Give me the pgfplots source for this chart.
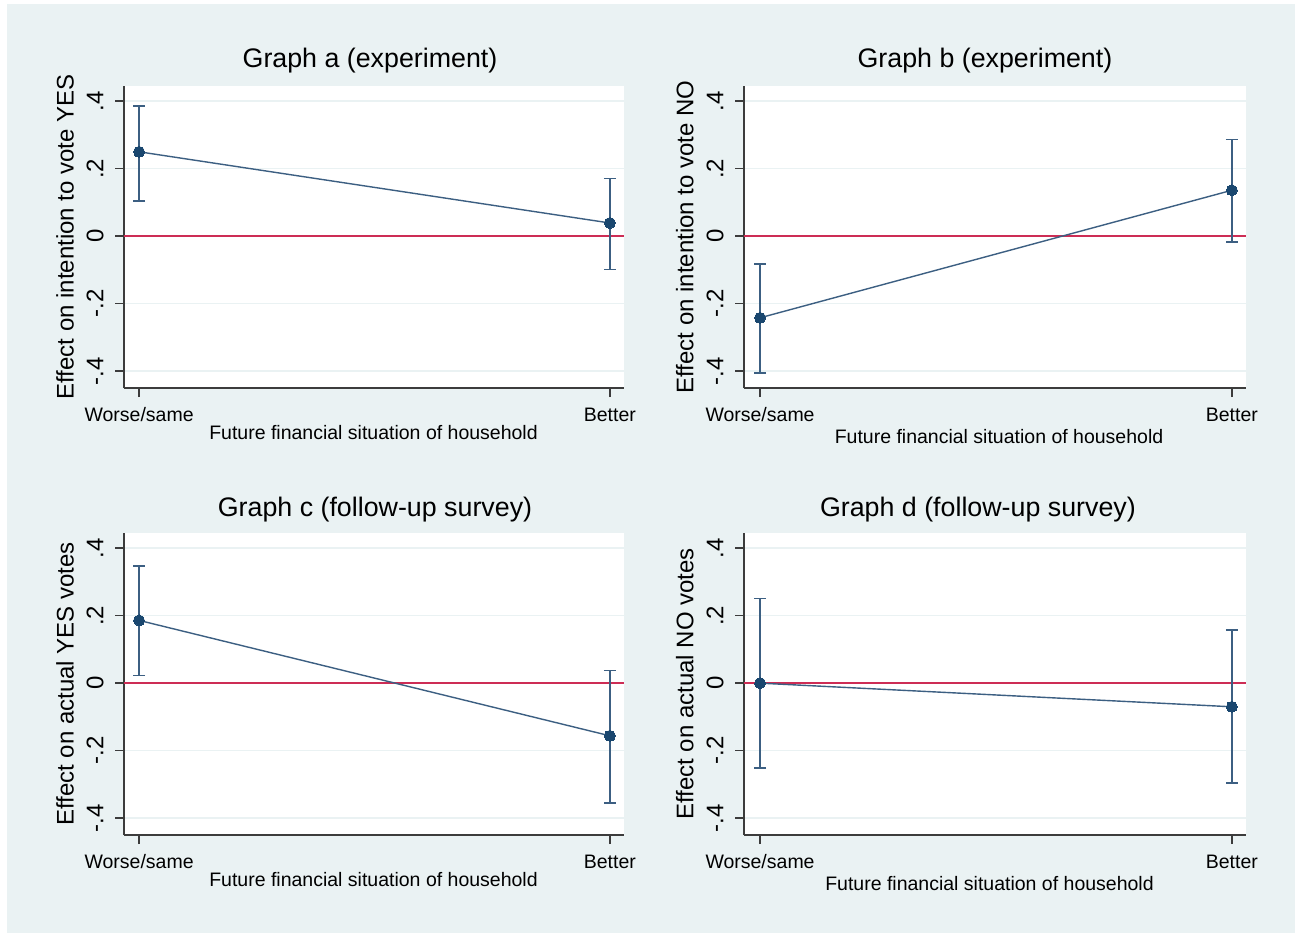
\documentclass[border=0pt]{standalone}
\usepackage{fontspec}
\setmainfont{Liberation Sans}
\usepackage{pgfplots}
\pgfplotsset{compat=1.18}
\definecolor{bgc}{RGB}{234,242,243}
\definecolor{navy}{RGB}{26,71,111}
\definecolor{navyl}{RGB}{60,95,130}
\definecolor{redl}{RGB}{205,45,85}
\definecolor{gridc}{RGB}{234,242,243}
\definecolor{axc}{RGB}{60,60,60}

\pgfplotsset{
  stata/.style={
    width=500pt, height=302pt, scale only axis,
    xmin=-0.032, xmax=1.03, ymin=-0.45, ymax=0.445,
    axis x line*=bottom, axis y line*=left,
    axis line style={axc, line width=1.5pt},
    axis background/.style={fill=white},
    xtick={0,1}, xticklabels={Worse/same,Better},
    ytick={-0.4,-0.2,0,0.2,0.4}, yticklabels={-.4,-.2,0,.2,.4},
    tick align=outside, major tick length=9pt,
    tick style={axc, line width=1.5pt},
    ymajorgrids, grid style={gridc, line width=1.5pt},
    xticklabel style={font=\fontsize{19.5}{21}\selectfont, anchor=center},
    xticklabel shift=18pt,
    yticklabel style={font=\fontsize{24}{26}\selectfont, anchor=center, rotate=90},
    yticklabel shift=20pt,
    title style={font=\fontsize{26.8}{28}\selectfont, anchor=center, yshift=-9pt},
    xlabel={Future financial situation of household},
    xlabel style={font=\fontsize{19.5}{21}\selectfont, anchor=center},
    ylabel style={font=\fontsize{24}{26}\selectfont, anchor=center,
                  at={(axis description cs:-0.118,0.5)}},
    clip=false,
  },
  zeroline/.style={redl, line width=1.5pt, no marks, forget plot},
  series/.style={navyl, line width=1.4pt, mark=*, mark size=5.5pt,
    mark options={fill=navy, draw=navy, line width=0pt},
    error bars/.cd, y dir=both, y explicit,
    error bar style={navyl, line width=1.4pt},
    error mark options={navyl, line width=1.4pt, mark size=6pt, rotate=90}},
}

\pgfplotstableread{
x y ep em
0 0.250 0.136 0.146
1 0.039 0.131 0.137
}\dataA
\pgfplotstableread{
x y ep em
0 -0.242 0.160 0.164
1 0.136 0.151 0.153
}\dataB
\pgfplotstableread{
x y ep em
0 0.186 0.161 0.163
1 -0.156 0.193 0.199
}\dataC
\pgfplotstableread{
x y ep em
0 0.000 0.251 0.251
1 -0.070 0.228 0.226
}\dataD

\begin{document}
\begin{tikzpicture}
\fill[white] (0pt,0pt) rectangle (1295pt,-933pt);
\fill[bgc] (7pt,-4pt) rectangle (1295pt,-933pt);

% Graph a
\begin{axis}[stata, at={(124pt,-388pt)}, anchor=south west,
  title={Graph a (experiment)},
  title style={at={(axis description cs:0.492,1.093)}},
  xlabel style={at={(axis description cs:0.499,-0.146)}},
  ylabel={Effect on intention to vote YES}]
\addplot[zeroline] coordinates {(-0.032,0) (1.03,0)};
\addplot[series] table[x=x, y=y, y error plus=ep, y error minus=em] {\dataA};
\end{axis}

% Graph b
\begin{axis}[stata, at={(744pt,-388pt)}, anchor=south west, width=502pt,
  xmin=-0.034,
  title={Graph b (experiment)},
  title style={at={(axis description cs:0.480,1.093)}},
  xlabel style={at={(axis description cs:0.508,-0.162)}},
  ylabel={Effect on intention to vote NO}]
\addplot[zeroline] coordinates {(-0.034,0) (1.03,0)};
\addplot[series] table[x=x, y=y, y error plus=ep, y error minus=em] {\dataB};
\end{axis}

% Graph c
\begin{axis}[stata, at={(124pt,-835pt)}, anchor=south west,
  title={Graph c (follow-up survey)},
  title style={at={(axis description cs:0.502,1.089)}},
  xlabel style={at={(axis description cs:0.499,-0.146)}},
  ylabel={Effect on actual YES votes}]
\addplot[zeroline] coordinates {(-0.032,0) (1.03,0)};
\addplot[series] table[x=x, y=y, y error plus=ep, y error minus=em] {\dataC};
\end{axis}

% Graph d
\begin{axis}[stata, at={(744pt,-835pt)}, anchor=south west, width=502pt,
  xmin=-0.034,
  title={Graph d (follow-up survey)},
  title style={at={(axis description cs:0.466,1.089)}},
  xlabel style={at={(axis description cs:0.489,-0.162)}},
  ylabel={Effect on actual NO votes}]
\addplot[zeroline] coordinates {(-0.034,0) (1.03,0)};
\addplot[series] table[x=x, y=y, y error plus=ep, y error minus=em] {\dataD};
\end{axis}

\pgfresetboundingbox
\useasboundingbox (0pt,0pt) rectangle (1295pt,-933pt);
\end{tikzpicture}
\end{document}
